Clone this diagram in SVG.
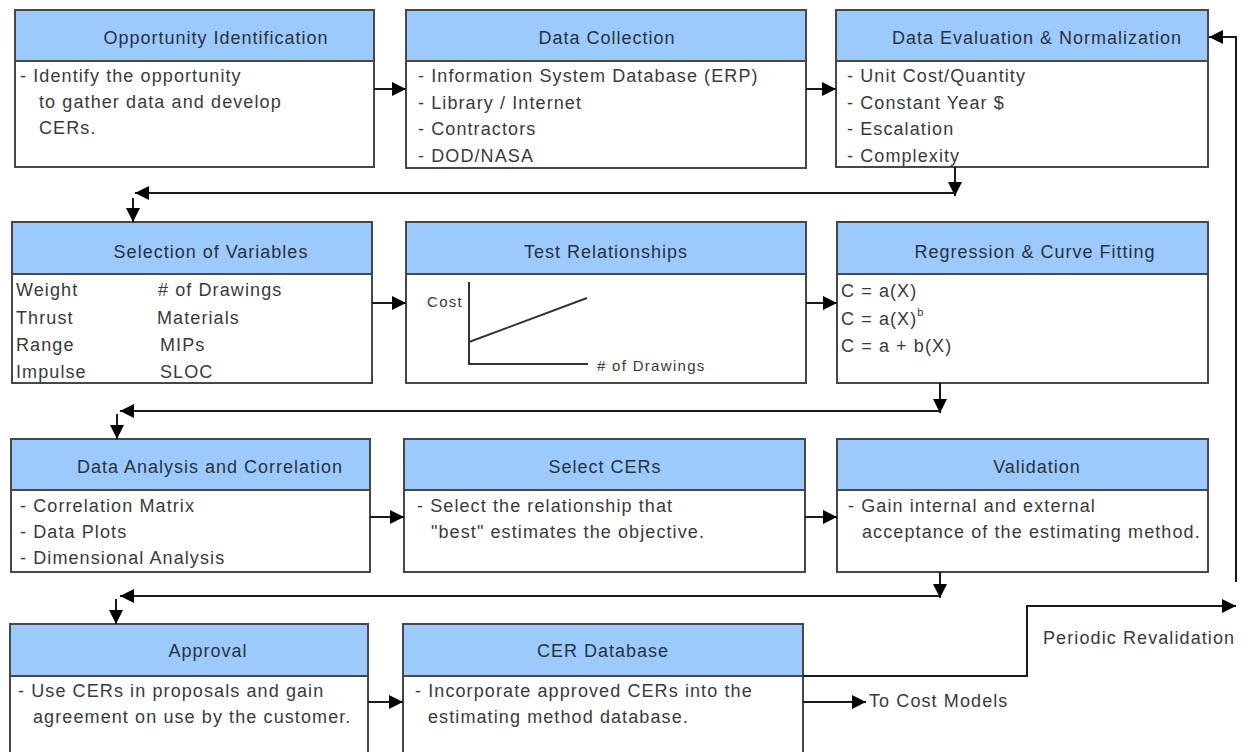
<svg xmlns="http://www.w3.org/2000/svg" width="1243" height="752" viewBox="0 0 1243 752">
  <style>
    .box { fill: #ffffff; stroke: #474747; stroke-width: 2; }
    .hdr { fill: #9ccafc; stroke: #474747; stroke-width: 2; }
    .title { font-family: "Liberation Sans", Arial, sans-serif; font-size: 18px; letter-spacing: 1px; fill: #28323c; text-anchor: middle; }
    .body { font-family: "Liberation Sans", Arial, sans-serif; font-size: 18px; letter-spacing: 1.1px; fill: #3a3a3a; }
    .small { font-family: "Liberation Sans", Arial, sans-serif; font-size: 15px; letter-spacing: 1.3px; fill: #3a3a3a; }
    .wire { fill: none; stroke: #1a1a1a; stroke-width: 2; }
    .axis { fill: none; stroke: #333; stroke-width: 2; }
  </style>
  <defs>
    <marker id="arrow" markerUnits="userSpaceOnUse" markerWidth="15" markerHeight="15" refX="14" refY="7" orient="auto">
      <path d="M0,0 L14,7 L0,14 z" fill="#000"/>
    </marker>
  </defs>

  <rect width="1243" height="752" fill="#ffffff"/>

  <!-- Row 1 -->
  <g id="opportunity-identification">
    <rect class="box" x="15" y="10" width="359" height="157"/>
    <rect class="hdr" x="15" y="10" width="359" height="51"/>
    <text class="title" x="216" y="44">Opportunity Identification</text>
    <text class="body" x="20" y="82">- Identify the opportunity</text>
    <text class="body" x="39" y="108">to gather data and develop</text>
    <text class="body" x="39" y="134">CERs.</text>
  </g>

  <g id="data-collection">
    <rect class="box" x="406" y="10" width="400" height="158"/>
    <rect class="hdr" x="406" y="10" width="400" height="51"/>
    <text class="title" x="607" y="44">Data Collection</text>
    <text class="body" x="418" y="82">- Information System Database (ERP)</text>
    <text class="body" x="418" y="109">- Library / Internet</text>
    <text class="body" x="418" y="135">- Contractors</text>
    <text class="body" x="418" y="162">- DOD/NASA</text>
  </g>

  <g id="data-evaluation">
    <rect class="box" x="836" y="10" width="372" height="157"/>
    <rect class="hdr" x="836" y="10" width="372" height="51"/>
    <text class="title" x="1037" y="44">Data Evaluation &amp; Normalization</text>
    <text class="body" x="847" y="82">- Unit Cost/Quantity</text>
    <text class="body" x="847" y="109">- Constant Year $</text>
    <text class="body" x="847" y="135">- Escalation</text>
    <text class="body" x="847" y="162">- Complexity</text>
  </g>

  <!-- Row 2 -->
  <g id="selection-of-variables">
    <rect class="box" x="12" y="222" width="360" height="161"/>
    <rect class="hdr" x="12" y="222" width="360" height="52"/>
    <text class="title" x="211" y="258">Selection of Variables</text>
    <text class="body" x="16" y="296">Weight</text>
    <text class="body" x="16" y="324">Thrust</text>
    <text class="body" x="16" y="351">Range</text>
    <text class="body" x="16" y="378">Impulse</text>
    <text class="body" x="158" y="296"># of Drawings</text>
    <text class="body" x="157" y="324">Materials</text>
    <text class="body" x="160" y="351">MIPs</text>
    <text class="body" x="160" y="378">SLOC</text>
  </g>

  <g id="test-relationships">
    <rect class="box" x="406" y="222" width="400" height="161"/>
    <rect class="hdr" x="406" y="222" width="400" height="52"/>
    <text class="title" x="606" y="258">Test Relationships</text>
    <path class="axis" d="M469,282 V364 H588"/>
    <line class="axis" x1="469" y1="342" x2="587" y2="298" stroke-width="1.5"/>
    <text class="small" x="427" y="307">Cost</text>
    <text class="small" x="597" y="371"># of Drawings</text>
  </g>

  <g id="regression">
    <rect class="box" x="837" y="222" width="371" height="161"/>
    <rect class="hdr" x="837" y="222" width="371" height="52"/>
    <text class="title" x="1035" y="258">Regression &amp; Curve Fitting</text>
    <text class="body" x="841" y="297">C = a(X)</text>
    <text class="body" x="841" y="325">C = a(X)<tspan font-size="11" dy="-9">b</tspan></text>
    <text class="body" x="841" y="352">C = a + b(X)</text>
  </g>

  <!-- Row 3 -->
  <g id="data-analysis">
    <rect class="box" x="11" y="439" width="359" height="133"/>
    <rect class="hdr" x="11" y="439" width="359" height="51"/>
    <text class="title" x="210" y="473">Data Analysis and Correlation</text>
    <text class="body" x="20" y="512">- Correlation Matrix</text>
    <text class="body" x="20" y="538">- Data Plots</text>
    <text class="body" x="20" y="564">- Dimensional Analysis</text>
  </g>

  <g id="select-cers">
    <rect class="box" x="404" y="439" width="401" height="133"/>
    <rect class="hdr" x="404" y="439" width="401" height="51"/>
    <text class="title" x="605" y="473">Select CERs</text>
    <text class="body" x="417" y="512">- Select the relationship that</text>
    <text class="body" x="431" y="538">"best" estimates the objective.</text>
  </g>

  <g id="validation">
    <rect class="box" x="837" y="439" width="371" height="133"/>
    <rect class="hdr" x="837" y="439" width="371" height="51"/>
    <text class="title" x="1037" y="473">Validation</text>
    <text class="body" x="848" y="512">- Gain internal and external</text>
    <text class="body" x="862" y="538">acceptance of the estimating method.</text>
  </g>

  <!-- Row 4 -->
  <g id="approval">
    <rect class="box" x="10" y="624" width="358" height="140"/>
    <rect class="hdr" x="10" y="624" width="358" height="52"/>
    <text class="title" x="208" y="657">Approval</text>
    <text class="body" x="18" y="697">- Use CERs in proposals and gain</text>
    <text class="body" x="33" y="723">agreement on use by the customer.</text>
  </g>

  <g id="cer-database">
    <rect class="box" x="403" y="624" width="400" height="140"/>
    <rect class="hdr" x="403" y="624" width="400" height="52"/>
    <text class="title" x="603" y="657">CER Database</text>
    <text class="body" x="415" y="697">- Incorporate approved CERs into the</text>
    <text class="body" x="428" y="723">estimating method database.</text>
  </g>

  <!-- Connectors -->
  <g id="connectors">
    <!-- row 1 -->
    <line class="wire" x1="374" y1="89" x2="406" y2="89" marker-end="url(#arrow)"/>
    <line class="wire" x1="806" y1="89" x2="836" y2="89" marker-end="url(#arrow)"/>
    <!-- row 1 to row 2 -->
    <line class="wire" x1="955" y1="167" x2="955" y2="196" marker-end="url(#arrow)"/>
    <line class="wire" x1="955" y1="193" x2="135" y2="193" marker-end="url(#arrow)"/>
    <line class="wire" x1="133" y1="198" x2="133" y2="222" marker-end="url(#arrow)"/>
    <!-- row 2 -->
    <line class="wire" x1="372" y1="303" x2="406" y2="303" marker-end="url(#arrow)"/>
    <line class="wire" x1="806" y1="303" x2="837" y2="303" marker-end="url(#arrow)"/>
    <!-- row 2 to row 3 -->
    <line class="wire" x1="940" y1="383" x2="940" y2="413" marker-end="url(#arrow)"/>
    <line class="wire" x1="940" y1="411" x2="120" y2="411" marker-end="url(#arrow)"/>
    <line class="wire" x1="117" y1="414" x2="117" y2="439" marker-end="url(#arrow)"/>
    <!-- row 3 -->
    <line class="wire" x1="370" y1="517" x2="404" y2="517" marker-end="url(#arrow)"/>
    <line class="wire" x1="805" y1="517" x2="837" y2="517" marker-end="url(#arrow)"/>
    <!-- row 3 to row 4 -->
    <line class="wire" x1="940" y1="572" x2="940" y2="598" marker-end="url(#arrow)"/>
    <line class="wire" x1="940" y1="596" x2="120" y2="596" marker-end="url(#arrow)"/>
    <line class="wire" x1="116" y1="599" x2="116" y2="624" marker-end="url(#arrow)"/>
    <!-- row 4 -->
    <line class="wire" x1="368" y1="702" x2="403" y2="702" marker-end="url(#arrow)"/>
    <line class="wire" x1="803" y1="702" x2="866" y2="702" marker-end="url(#arrow)"/>
    <path class="wire" d="M803,676 H1027 V606 H1236" marker-end="url(#arrow)"/>
    <!-- revalidation return -->
    <path class="wire" d="M1236,582 V37 H1209" marker-end="url(#arrow)"/>
    <text class="body" x="869" y="707">To Cost Models</text>
    <text class="body" x="1043" y="644">Periodic Revalidation</text>
  </g>
</svg>
